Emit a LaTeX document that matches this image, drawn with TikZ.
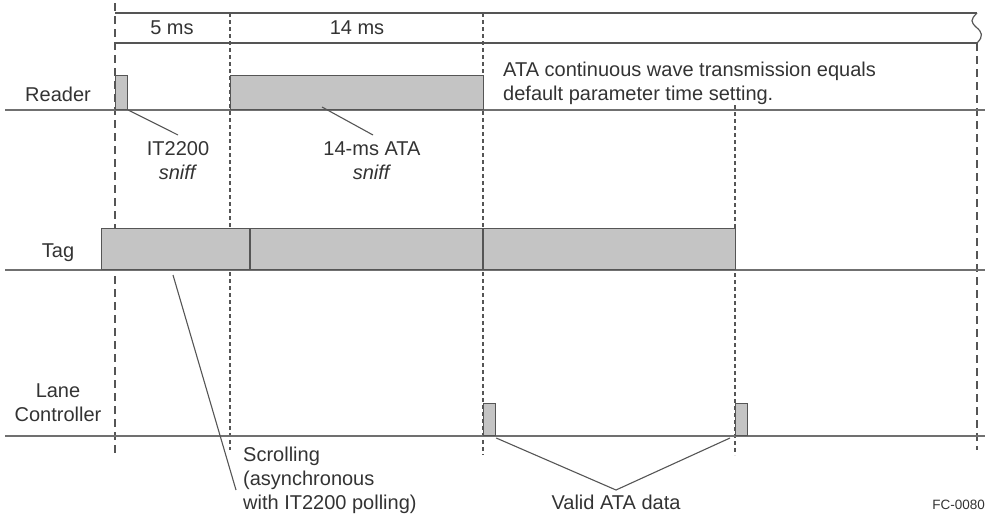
\documentclass[tikz,border=0pt]{standalone}
\usepackage{fontspec}
\setmainfont{Liberation Sans}
\definecolor{ink}{HTML}{333333}
\definecolor{wire}{HTML}{555555}
\definecolor{base}{HTML}{707070}
\definecolor{busy}{HTML}{C4C4C4}
\begin{document}
\begin{tikzpicture}[x=1pt,y=-1pt,
  lbl/.style={font=\fontsize{20}{24}\selectfont, text=ink, inner sep=0pt},
  tiny/.style={font=\fontsize{13.5}{16}\selectfont, text=ink, inner sep=0pt},
  baseline/.style={draw=base, line width=1.3pt},
  pulse/.style={draw=wire, fill=busy, line width=1.2pt, inner sep=0pt, anchor=south west},
  pointer/.style={draw=wire, line width=1.1pt},
  longdash/.style={draw=wire, line width=1.1pt, dash pattern=on 8pt off 5pt},
  shortdash/.style={draw=wire, line width=1.1pt, dash pattern=on 4pt off 3pt}]
\useasboundingbox (0,0) rectangle (985,517);

% time scale
\draw[wire, line width=1.2pt] (115,13) -- (977,13);
\draw[wire, line width=1.2pt] (115,43) -- (977,43);
\draw[wire, line width=1.2pt] (977,13) .. controls (970,20) and (971,22) .. (976,27)
  .. controls (982,32) and (984,36) .. (977,43);
\node[lbl] (t5) at (172,28) {5 ms};
\node[lbl] (t14) at (357,28) {14 ms};

% time markers
\draw[longdash] (115,3) -- (115,455);
\draw[shortdash] (230,13) -- (230,450);
\draw[shortdash] (483,13) -- (483,455);
\draw[shortdash] (735,105) -- (735,455);
\draw[longdash] (977,43) -- (977,450);

% signal base lines
\draw[baseline] (5,110) -- (985,110);
\draw[baseline] (5,270) -- (985,270);
\draw[baseline] (5,436) -- (985,436);

% row names
\node[lbl, anchor=east] (reader) at (91,94) {Reader};
\node[lbl] (tag) at (58,253) {Tag};
\node[lbl, align=center] (lane) at (58,403) {Lane\\Controller};

% reader activity
\node[pulse, minimum width=12pt, minimum height=34pt] (rp1) at (115,110) {};
\node[pulse, minimum width=253pt, minimum height=34pt] (rp2) at (230,110) {};
\node[lbl, align=center] (itsniff) at (178,161) {IT2200\\\textit{sniff}};
\node[lbl, align=center] (atasniff) at (372,161) {14-ms ATA\\\textit{sniff}};
\coordinate (atafoot) at (322,107);
\draw[pointer] (rp1.south east) -- (178,135);
\draw[pointer] (atafoot) -- (373,135);
\node[lbl, align=left, anchor=west] (cw) at (503,83)
  {ATA continuous wave transmission equals\\default parameter time setting.};

% tag activity
\node[pulse, minimum width=634pt, minimum height=41pt] (tp) at (101,270) {};
\draw[wire, line width=1.2pt] (250,229) -- (250,270);
\draw[wire, line width=1.2pt] (483,229) -- (483,270);

% lane controller activity
\node[pulse, minimum width=12pt, minimum height=32pt] (lp1) at (483,436) {};
\node[pulse, minimum width=12pt, minimum height=32pt] (lp2) at (735,436) {};

% bottom annotations
\node[lbl, align=left, anchor=west] (scroll) at (243,480)
  {Scrolling\\(asynchronous\\with IT2200 polling)};
\coordinate (scrollfoot) at (173,275);
\draw[pointer] (scrollfoot) -- (236,490);
\node[lbl] (valid) at (616,502) {Valid ATA data};
\coordinate (apex) at (616,490);
\draw[pointer] (lp1.south east) ++(0,2) -- (apex) -- (730,438);
\node[tiny, anchor=east] (fc) at (985,505) {FC-0080};
\end{tikzpicture}
\end{document}
